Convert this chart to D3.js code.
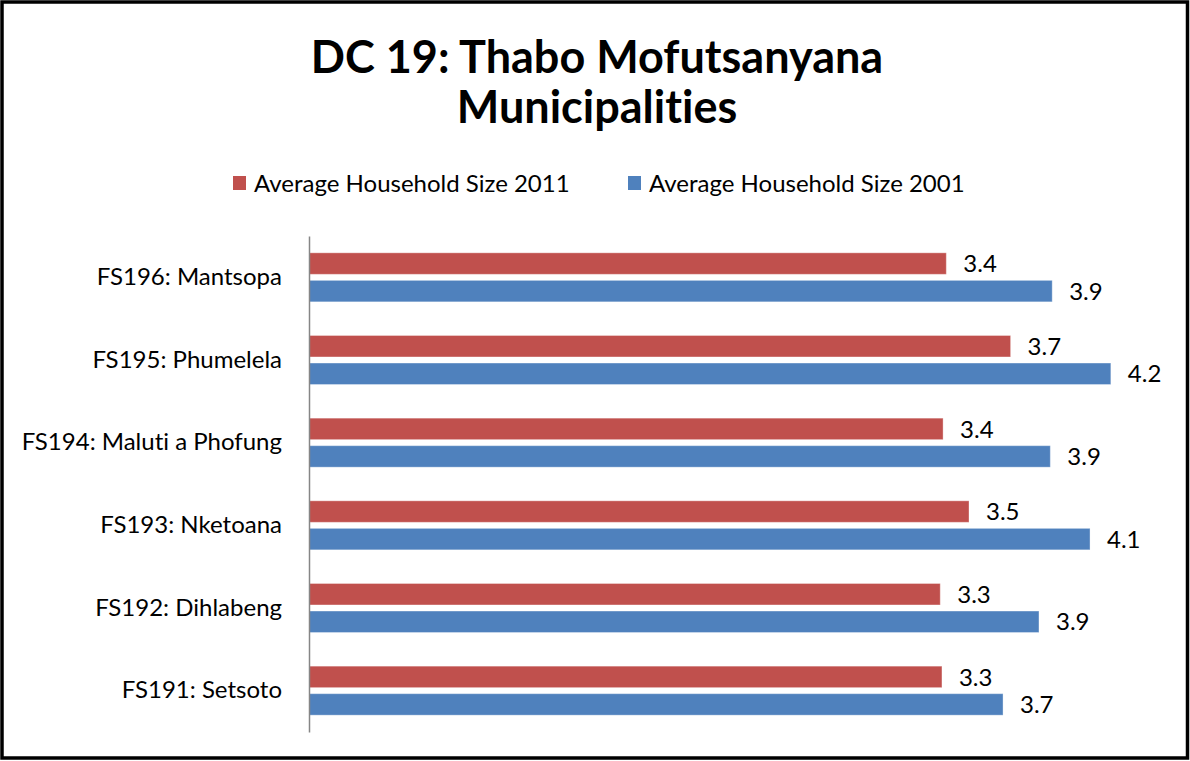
<!DOCTYPE html>
<html>
<head>
<meta charset="utf-8">
<script src="https://cdn.jsdelivr.net/npm/d3@7"></script>
<style>
  body { margin: 0; background: #fff; }
  svg { display: block; font-family: Lato, "Open Sans", sans-serif; font-variant-ligatures: none; }
</style>
</head>
<body>
<div id="chart"></div>
<script>
// chart data, top row first
const categories = ["FS196: Mantsopa", "FS195: Phumelela", "FS194: Maluti a Phofung",
  "FS193: Nketoana", "FS192: Dihlabeng", "FS191: Setsoto"];
const seriesNames = ["Average Household Size 2011", "Average Household Size 2001"];
const values2011 = [3.37, 3.71, 3.353, 3.49, 3.338, 3.347];
const values2001 = [3.93, 4.24, 3.92, 4.13, 3.86, 3.67];
const colors = ["#C0504D", "#4F81BD"];
const titleLines = ["DC 19: Thabo Mofutsanyana", "Municipalities"];

const width = 1190;
const height = 761;
const plot = { left: 309, right: 1160, top: 236, bottom: 732 };

const rows = categories.map((c, i) => ({
  category: c,
  bars: [
    { series: seriesNames[0], value: values2011[i] },
    { series: seriesNames[1], value: values2001[i] }
  ]
}));

const svg = d3.select("#chart").append("svg")
  .attr("width", width)
  .attr("height", height);

// outer frame
svg.append("rect")
  .attr("x", 2).attr("y", 2)
  .attr("width", width - 4.5).attr("height", height - 5)
  .attr("fill", "#fff")
  .attr("stroke", "#000")
  .attr("stroke-width", 3.5);

// title
svg.append("text")
  .attr("text-anchor", "middle")
  .attr("font-weight", "bold")
  .attr("font-size", 45)
  .attr("fill", "#000")
  .selectAll("tspan")
  .data(titleLines)
  .join("tspan")
  .attr("x", 597)
  .attr("y", (d, i) => 73 + i * 50)
  .text(d => d);

// legend
const legend = svg.append("g").attr("class", "legend");
const legendX = [233, 628];
seriesNames.forEach((name, i) => {
  const g = legend.append("g").attr("transform", `translate(${legendX[i]}, 176)`);
  g.append("rect").attr("width", 13).attr("height", 14).attr("fill", colors[i]);
  g.append("text")
    .attr("x", 21).attr("y", 7)
    .attr("dy", "0.36em")
    .attr("font-size", 24)
    .attr("fill", "#000")
    .text(name);
});

const xScale = d3.scaleLinear().domain([0, 4.5]).range([plot.left, plot.right]);
const yScale = d3.scaleBand().domain(categories).range([plot.top, plot.bottom])
  .paddingInner(0.407).paddingOuter(0.2035);
const ySub = d3.scaleBand().domain(seriesNames).range([0, yScale.bandwidth()]).paddingInner(0.22);
const color = d3.scaleOrdinal().domain(seriesNames).range(colors);

// bars
const groups = svg.append("g").attr("class", "bars")
  .selectAll("g")
  .data(rows)
  .join("g")
  .attr("transform", d => `translate(0, ${yScale(d.category)})`);

groups.selectAll("rect")
  .data(d => d.bars)
  .join("rect")
  .attr("x", xScale(0))
  .attr("y", d => ySub(d.series))
  .attr("width", d => xScale(d.value) - xScale(0))
  .attr("height", ySub.bandwidth())
  .attr("fill", d => color(d.series))
  .attr("stroke", "rgba(255,255,255,0.35)")
  .attr("stroke-width", 1);

groups.selectAll("text")
  .data(d => d.bars)
  .join("text")
  .attr("x", d => xScale(d.value) + 17)
  .attr("y", d => ySub(d.series) + ySub.bandwidth() / 2)
  .attr("dy", "0.36em")
  .attr("font-size", 24)
  .attr("fill", "#000")
  .text(d => d3.format(".1f")(d.value));

// category axis
const yAxis = svg.append("g")
  .attr("transform", `translate(${plot.left}, 0)`)
  .call(d3.axisLeft(yScale).tickSize(0).tickSizeOuter(0).tickPadding(27));

yAxis.select(".domain").attr("stroke", "#868686").attr("stroke-width", 1.5);
yAxis.selectAll(".tick text")
  .attr("font-size", 24)
  .attr("font-family", "Lato, sans-serif")
  .attr("fill", "#000");
</script>
</body>
</html>
